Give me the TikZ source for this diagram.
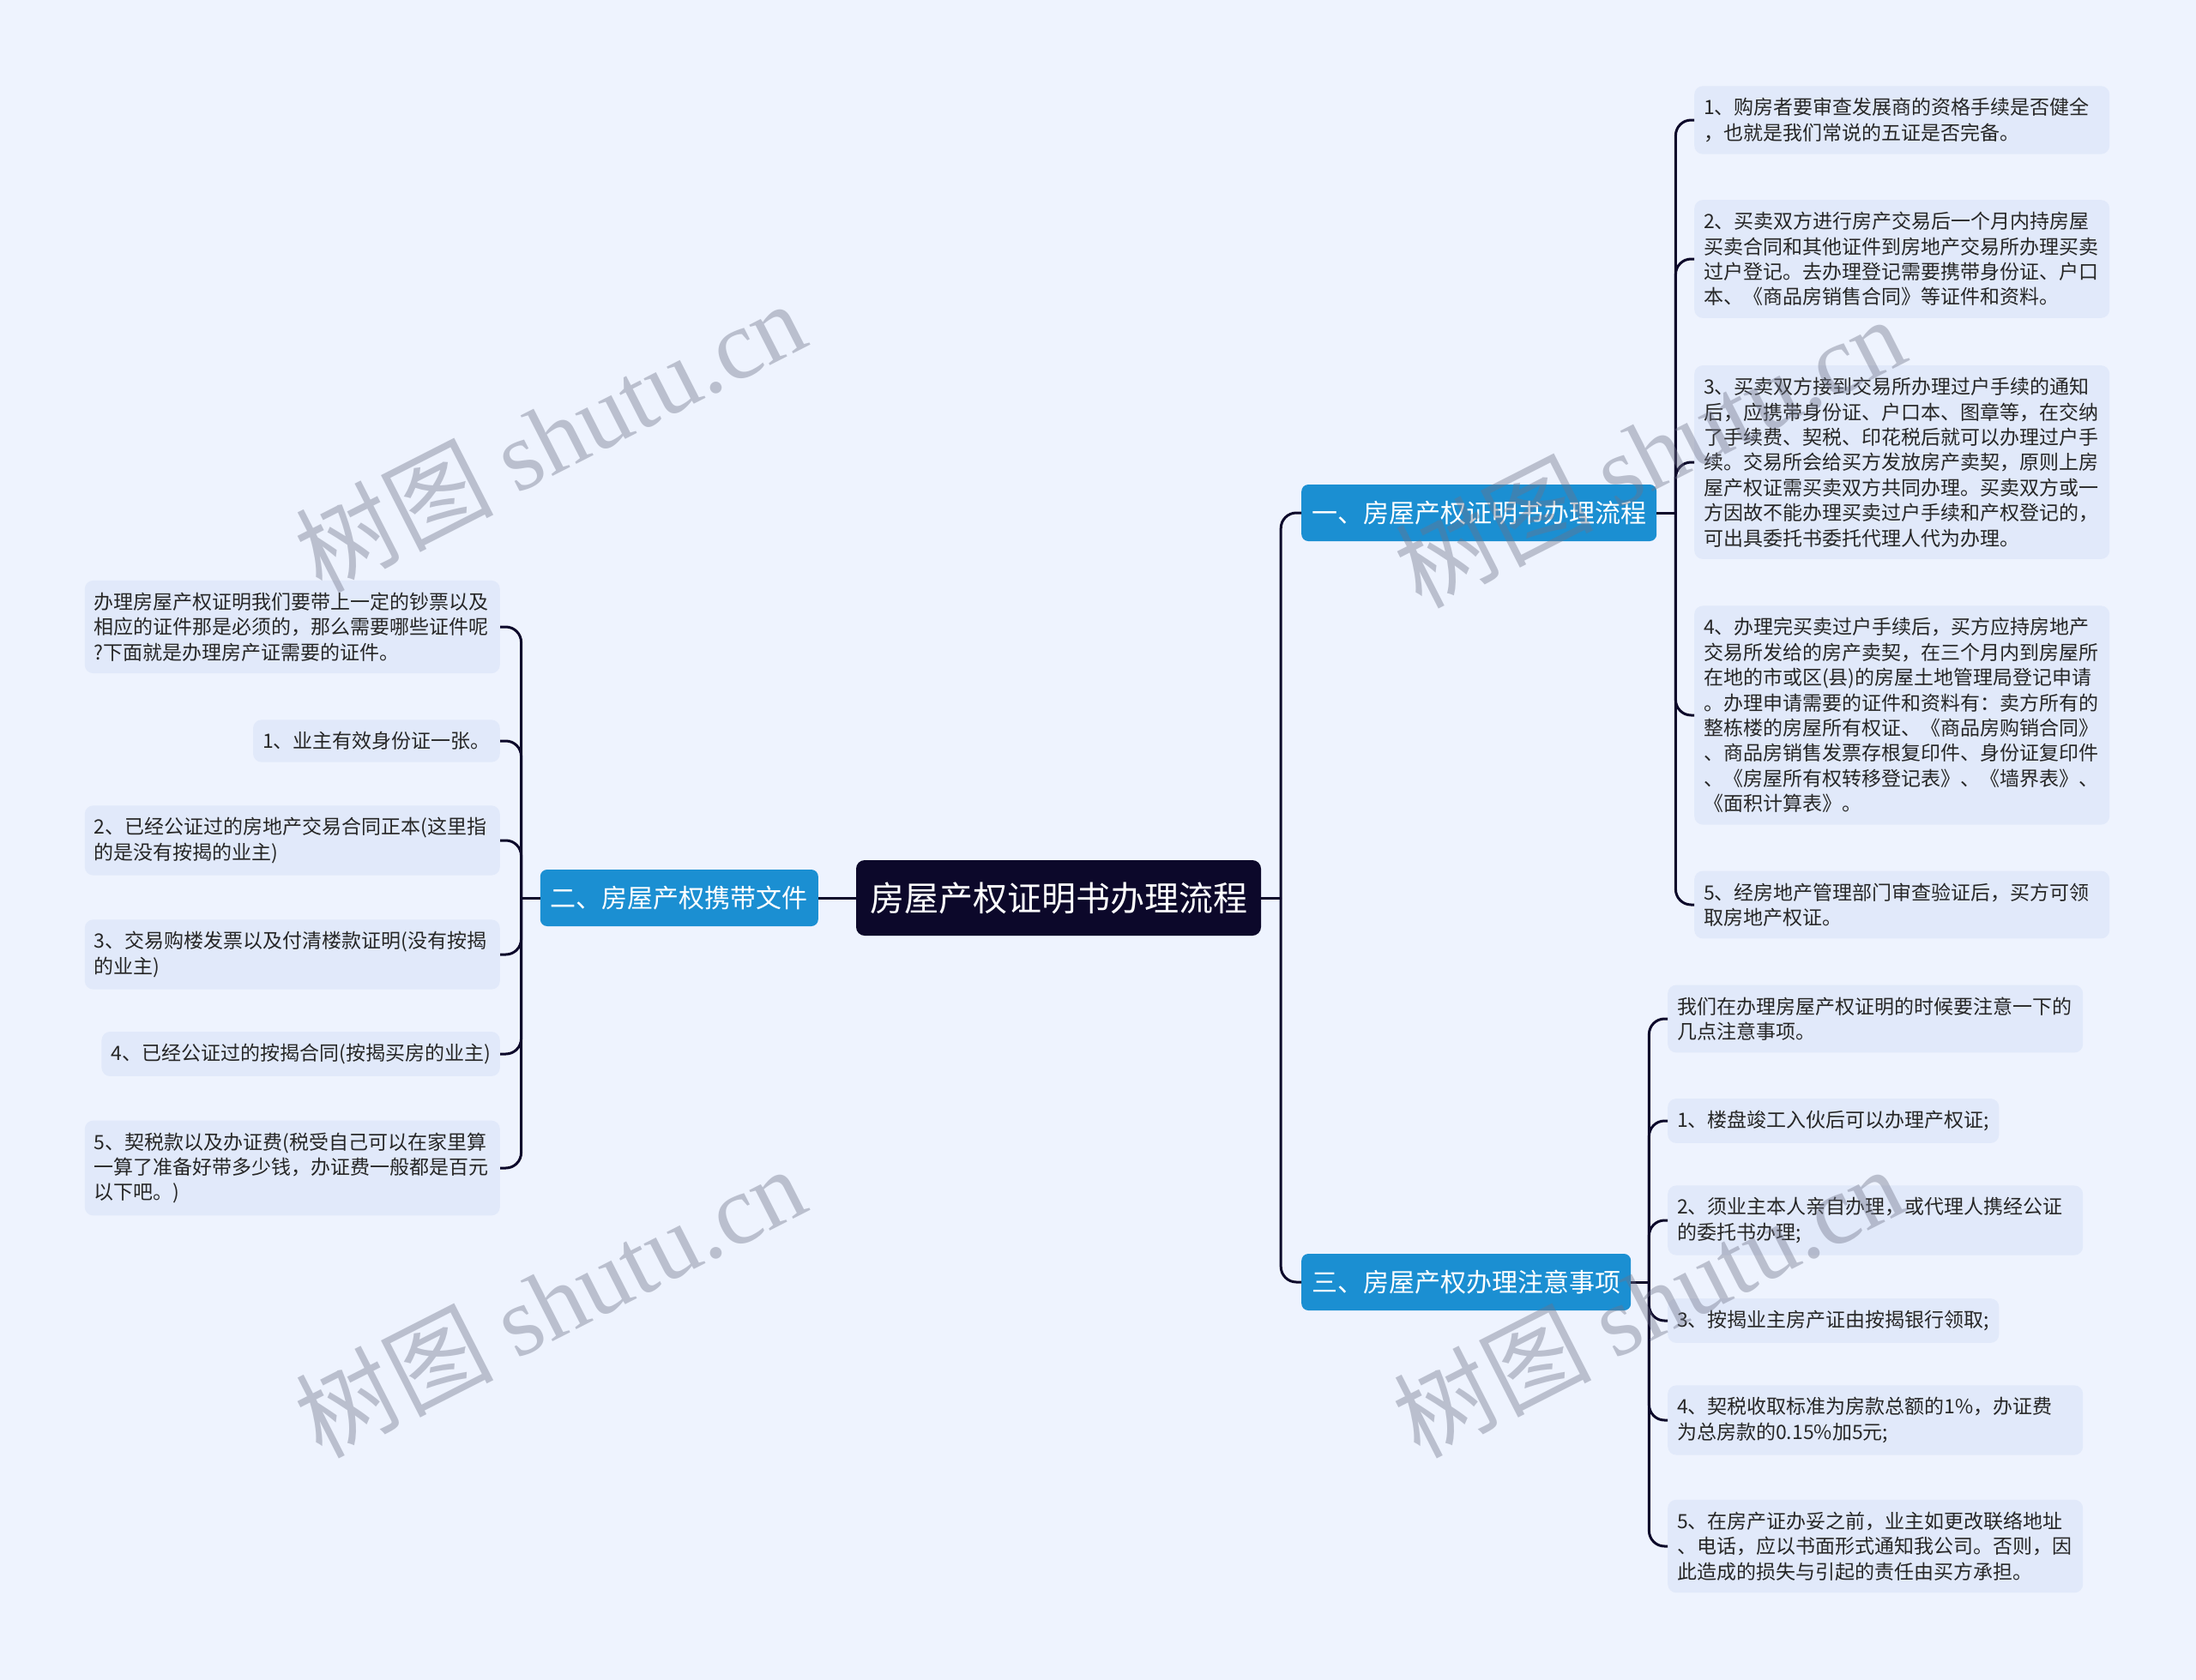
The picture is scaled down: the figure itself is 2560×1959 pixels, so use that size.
\documentclass[tikz,border=0pt]{standalone}
\usepackage{fontspec}
\setmainfont{Noto Sans CJK SC}
\newfontfamily\wmlatin{Liberation Serif}
\definecolor{BgClr}{RGB}{238,243,254}
\definecolor{LeafClr}{RGB}{225,233,250}
\definecolor{TopicClr}{RGB}{27,143,210}
\definecolor{RootClr}{RGB}{12,8,42}
\definecolor{MarkClr}{RGB}{110,115,135}

\begin{document}
\begin{tikzpicture}[x=1pt,y=-1pt,
  link/.style={draw=RootClr,line width=3pt,rounded corners=18pt},
  rootbox/.style={fill=RootClr,text=white,rounded corners=10pt,inner xsep=16pt,minimum height=88pt,font=\fontsize{40}{48}\selectfont},
  topic/.style={fill=TopicClr,text=white,rounded corners=8pt,inner xsep=12pt,minimum height=66pt,font=\fontsize{30}{36}\selectfont},
  leaf/.style={fill=LeafClr,text=black!85,rounded corners=10pt,inner xsep=11pt,inner ysep=14pt,align=left,font=\fontsize{23}{29.4}\selectfont},
  wide/.style={leaf,text width=462pt},
  wmark/.style={text=MarkClr,opacity=0.4,rotate=27,font=\fontsize{115}{115}\selectfont}]
\useasboundingbox (0,0) rectangle (2560,1959);
\fill[BgClr] (0,0) rectangle (2560,1959);

\node[rootbox] (root) at (1234,1047) {房屋产权证明书办理流程};
\node[topic,anchor=west] (b1) at (1517,598) {一、房屋产权证明书办理流程};
\node[topic,anchor=east] (b2) at (954,1047) {二、房屋产权携带文件};
\node[topic,anchor=west] (b3) at (1517,1495) {三、房屋产权办理注意事项};

\node[wide,anchor=west] (l1) at (1975,140) {1、购房者要审查发展商的资格手续是否健全\\，也就是我们常说的五证是否完备。};
\node[wide,anchor=west] (l2) at (1975,302) {2、买卖双方进行房产交易后一个月内持房屋\\买卖合同和其他证件到房地产交易所办理买卖\\过户登记。去办理登记需要携带身份证、户口\\本、《商品房销售合同》等证件和资料。};
\node[wide,anchor=west] (l3) at (1975,539) {3、买卖双方接到交易所办理过户手续的通知\\后，应携带身份证、户口本、图章等，在交纳\\了手续费、契税、印花税后就可以办理过户手\\续。交易所会给买方发放房产卖契，原则上房\\屋产权证需买卖双方共同办理。买卖双方或一\\方因故不能办理买卖过户手续和产权登记的，\\可出具委托书委托代理人代为办理。};
\node[wide,anchor=west] (l4) at (1975,834) {4、办理完买卖过户手续后，买方应持房地产\\交易所发给的房产卖契，在三个月内到房屋所\\在地的市或区(县)的房屋土地管理局登记申请\\。办理申请需要的证件和资料有：卖方所有的\\整栋楼的房屋所有权证、《商品房购销合同》\\、商品房销售发票存根复印件、身份证复印件\\、《房屋所有权转移登记表》、《墙界表》、\\《面积计算表》。};
\node[wide,anchor=west] (l5) at (1975,1055) {5、经房地产管理部门审查验证后，买方可领\\取房地产权证。};

\node[wide,anchor=east] (n0) at (583,731) {办理房屋产权证明我们要带上一定的钞票以及\\相应的证件那是必须的，那么需要哪些证件呢\\?下面就是办理房产证需要的证件。};
\node[leaf,anchor=east] (n1) at (583,864) {1、业主有效身份证一张。};
\node[wide,anchor=east] (n2) at (583,980) {2、已经公证过的房地产交易合同正本(这里指\\的是没有按揭的业主)};
\node[wide,anchor=east] (n3) at (583,1113) {3、交易购楼发票以及付清楼款证明(没有按揭\\的业主)};
\node[leaf,anchor=east] (n4) at (583,1229) {4、已经公证过的按揭合同(按揭买房的业主)};
\node[wide,anchor=east] (n5) at (583,1362) {5、契税款以及办证费(税受自己可以在家里算\\一算了准备好带多少钱，办证费一般都是百元\\以下吧。)};

\node[wide,anchor=west] (m0) at (1944,1188) {我们在办理房屋产权证明的时候要注意一下的\\几点注意事项。};
\node[leaf,anchor=west] (m1) at (1944,1307) {1、楼盘竣工入伙后可以办理产权证;};
\node[wide,anchor=west] (m2) at (1944,1423) {2、须业主本人亲自办理，或代理人携经公证\\的委托书办理;};
\node[leaf,anchor=west] (m3) at (1944,1540) {3、按揭业主房产证由按揭银行领取;};
\node[wide,anchor=west] (m4) at (1944,1656) {4、契税收取标准为房款总额的1\%，办证费\\为总房款的0.15\%加5元;};
\node[wide,anchor=west] (m5) at (1944,1803) {5、在房产证办妥之前，业主如更改联络地址\\、电话，应以书面形式通知我公司。否则，因\\此造成的损失与引起的责任由买方承担。};

\draw[link] (root.west) -- (b2.east);
\draw[link] (root.east) -- ++(23,0) coordinate (s0);
\draw[link] (s0) |- (b1.west);
\draw[link] (s0) |- (b3.west);
\draw[link] (b1.east) -- ++(22,0) coordinate (s1);
\foreach \n in {l1,l2,l3,l4,l5} \draw[link] (s1) |- (\n.west);
\draw[link] (b2.west) -- ++(-22,0) coordinate (s2);
\foreach \n in {n0,n1,n2,n3,n4,n5} \draw[link] (s2) |- (\n.east);
\draw[link] (b3.east) -- ++(21,0) coordinate (s3);
\foreach \n in {m0,m1,m2,m3,m4,m5} \draw[link] (s3) |- (\n.west);

\node[wmark] (w1) at (641,508) {树图 {\wmlatin shutu.cn}};
\node[wmark] (w2) at (641,1517) {树图 {\wmlatin shutu.cn}};
\node[wmark] (w3) at (1923,526) {树图 {\wmlatin shutu.cn}};
\node[wmark] (w4) at (1921,1517) {树图 {\wmlatin shutu.cn}};
\end{tikzpicture}
\end{document}
